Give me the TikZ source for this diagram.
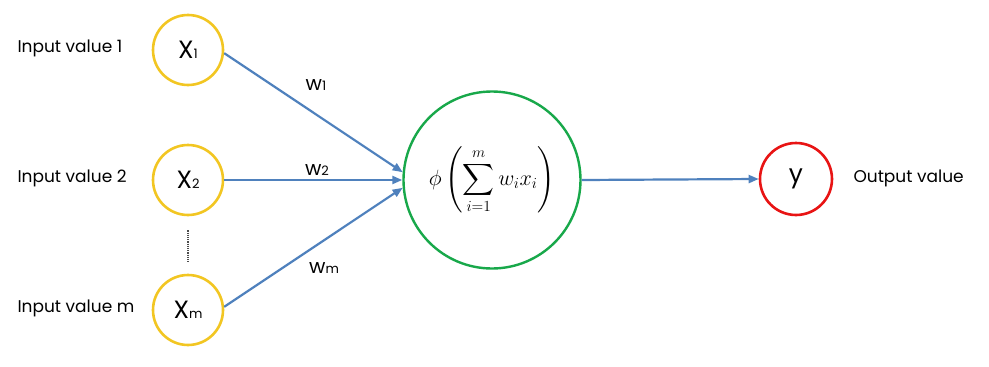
\documentclass[tikz,border=0pt]{standalone}
\usepackage{amsmath}
\usepackage{graphicx}
\usepackage{fontspec}
\setmainfont{Poppins}
\usepackage{tikz}
\usetikzlibrary{arrows.meta}

\definecolor{inyellow}{RGB}{242,198,34}
\definecolor{sumgreen}{RGB}{24,168,74}
\definecolor{outred}{RGB}{232,20,20}
\definecolor{linkblue}{RGB}{79,129,189}

% letter with a small index set on the baseline
\newcommand{\sublab}[2]{#1{\fontsize{13}{13}\selectfont #2}}

\begin{document}
\begin{tikzpicture}[
  x=1pt, y=-1pt,
  every node/.style={font=\fontsize{17}{19}\selectfont},
  inp/.style={draw=inyellow, line width=2.6pt, circle, minimum size=70pt, inner sep=0pt, fill=white, font=\fontsize{25}{27}\selectfont},
  neuron/.style={draw=sumgreen, line width=2.4pt, circle, minimum size=177pt, inner sep=0pt, fill=white},
  outp/.style={draw=outred, line width=2.6pt, circle, minimum size=72pt, inner sep=0pt, fill=white, font=\fontsize{25}{27}\selectfont},
  link/.style={draw=linkblue, line width=2.2pt, -{Triangle[length=10pt,width=8pt]}},
  wlab/.style={font=\fontsize{20}{22}\selectfont}
]
  \useasboundingbox (0,0) rectangle (989,367);

  % inputs
  \foreach \n/\y/\i in {x1/50/1,x2/180/2,xm/310/m} {
    \node[inp] (\n) at (188,\y) {\sublab{X}{\i}};
    \node[anchor=west] (lab\n) at (14,\y-2) {Input value \i};
  }
  \draw[densely dotted, line width=1.2pt, gray!60!black] (x2.south) ++(0,14) coordinate (dtop)
    (xm.north) ++(0,-12) coordinate (dbot);
  \draw[densely dotted, line width=1.2pt, gray!60!black] (dtop) -- (dbot);

  % neuron and output
  \node[neuron] (phi) at (492,180) {\scalebox{1.28}{$\displaystyle \phi\left(\sum_{i=1}^{m} w_i x_i\right)$}};
  \node[outp] (y) at (796,179) {y};
  \node[anchor=west] (labout) at (850,178) {Output value};

  % weighted links
  \draw[link] (x1.-5) -- (phi.175);
  \draw[link] (x2.east) -- (phi.west);
  \draw[link] (xm.5) -- (phi.185);
  \draw[link] (phi.east) -- (y.west);

  \node[wlab] (w1) at (316,85) {\sublab{w}{1}};
  \node[wlab] (w2) at (317,170) {\sublab{w}{2}};
  \node[wlab] (wm) at (324,268) {\sublab{w}{m}};
\end{tikzpicture}
\end{document}
